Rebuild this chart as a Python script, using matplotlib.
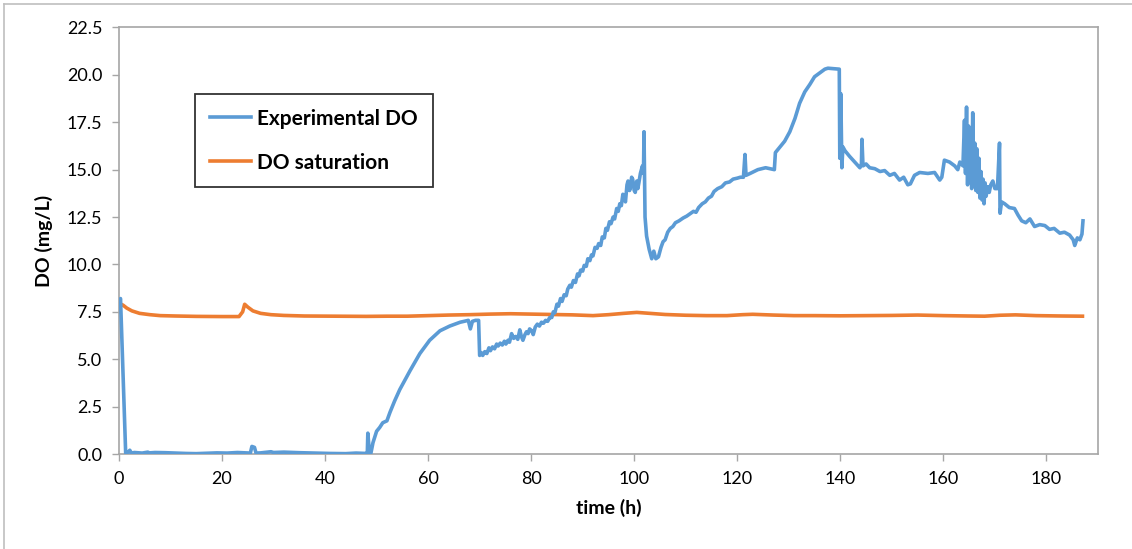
import matplotlib
matplotlib.use('Agg')
import matplotlib.pyplot as plt
from matplotlib.lines import Line2D

plt.rcParams['font.family'] = ['Lato', 'DejaVu Sans']

# Experimental DO (time in h, DO in mg/L)
exp_time = [
    0.0, 0.3, 0.7, 1.0, 1.3, 1.8, 2.1, 2.4, 3.0, 4.5, 5.6, 5.9, 7.0, 9.0, 11.0, 13.0,
    15.0, 17.0, 19.0, 21.0, 23.0, 25.5, 25.8, 26.3, 26.6, 27.5, 29.5, 30.0, 32.0,
    35.0, 38.0, 41.0, 44.0, 46.0, 48.0,
    48.2, 48.3, 48.6, 48.9, 49.3, 50.0, 50.6, 51.2, 52.0, 52.6, 53.5, 54.5, 56.5,
    58.4, 60.3, 62.3, 64.2, 66.2, 67.8, 68.2, 68.6, 69.2, 69.8,
    70.0, 70.3, 70.6, 71.0, 71.4, 71.8, 72.1, 72.5, 72.9, 73.3, 73.6, 74.0, 74.4,
    74.8, 75.1, 75.5, 75.8, 76.2, 76.6, 77.0, 77.4, 77.8, 78.1, 78.4, 78.8, 79.1,
    79.4, 79.7, 80.1, 80.4, 80.8, 81.2, 81.6, 82.0, 82.4, 82.8, 83.2, 83.6, 84.0,
    84.3, 84.6, 85.0, 85.3, 85.7, 86.0, 86.4, 86.8, 87.1, 87.5, 87.8, 88.2, 88.6,
    89.0, 89.3, 89.6, 90.0, 90.3, 90.7, 91.0, 91.4, 91.7, 92.0, 92.4, 92.8, 93.1,
    93.5, 93.8, 94.2, 94.5, 94.8, 95.2, 95.5, 95.9, 96.2, 96.6, 96.9, 97.2, 97.5,
    97.8, 98.1, 98.3, 98.6, 98.8, 99.1, 99.3, 99.5, 99.7, 100.0, 100.2, 100.5,
    100.7, 100.9, 101.2, 101.4, 101.6, 101.8, 101.9, 102.1,
    102.4, 102.9, 103.4, 103.8, 104.2, 104.7, 105.2, 105.6, 106.0, 106.5, 107.0,
    107.5, 108.0, 108.7, 109.5, 110.2, 111.0, 111.5, 112.0, 112.5, 113.2, 113.8,
    114.4, 115.0, 115.5, 116.2, 117.0, 117.7, 118.5, 119.2, 120.0, 120.6, 121.2,
    121.5, 121.7, 122.5, 124.0, 125.5, 127.2, 127.4, 128.3, 129.2, 130.2, 131.2,
    132.1, 133.1, 134.1, 135.0, 136.0, 137.0, 137.6, 139.8,
    139.9, 140.1, 140.3, 140.5, 140.9, 141.8, 142.8, 143.8, 144.1, 144.2, 144.4,
    145.0, 145.7, 146.7, 147.7, 148.6, 149.6, 150.5, 151.5, 152.3, 153.1, 153.6,
    154.4, 155.4, 157.0, 158.3, 159.3, 159.7, 160.2, 161.2, 162.2, 162.8, 163.2,
    163.8,
    164.1, 164.3, 164.5, 164.7, 164.9, 165.1, 165.3, 165.5, 165.7, 165.9, 166.1,
    166.3, 166.5, 166.7, 166.9, 167.1, 167.3, 167.5, 167.7, 167.9, 168.1, 168.3,
    168.6, 168.9, 169.2, 169.6, 170.0, 170.5,
    170.9, 171.0, 171.3, 171.9, 172.8, 173.8, 174.5, 175.2, 176.0, 176.8, 177.7,
    178.7, 179.7, 180.6, 181.5, 182.6, 183.5, 184.5, 185.2, 185.5, 186.0, 186.5,
    186.9, 187.1,
]
exp_do = [
    8.0, 8.2, 5.0, 2.5, 0.05, 0.1, 0.2, 0.05, 0.08, 0.05, 0.1, 0.06, 0.08, 0.07,
    0.05, 0.03, 0.02, 0.04, 0.06, 0.05, 0.08, 0.05, 0.4, 0.35, 0.05, 0.06, 0.12,
    0.08, 0.1, 0.07, 0.05, 0.03, 0.02, 0.05, 0.03,
    0.05, 1.1, 0.1, 0.05, 0.6, 1.2, 1.4, 1.65, 1.75, 2.2, 2.8, 3.4, 4.4, 5.3, 6.0,
    6.5, 6.75, 6.95, 7.05, 6.6, 7.0, 7.05, 7.05,
    5.2, 5.35, 5.2, 5.4, 5.3, 5.6, 5.45, 5.65, 5.55, 5.8, 5.7, 5.85, 5.75, 5.95,
    5.8, 6.0, 5.9, 6.35, 6.1, 6.2, 6.05, 6.55, 6.2, 6.0, 6.3, 6.45, 6.35, 6.6,
    6.5, 6.3, 6.7, 6.85, 6.75, 6.95, 6.9, 7.05, 7.0, 7.2, 7.2, 7.5, 7.45, 7.9,
    7.8, 8.2, 8.05, 8.4, 8.35, 8.7, 8.9, 8.8, 9.15, 9.05, 9.5, 9.4, 9.7, 9.65,
    9.95, 9.9, 10.3, 10.2, 10.5, 10.45, 10.9, 10.85, 11.1, 11.0, 11.45, 11.4,
    11.9, 11.8, 12.25, 12.15, 12.5, 12.4, 12.95, 12.8, 13.2, 13.1, 13.7, 13.5,
    13.3, 14.2, 14.4, 13.9, 14.1, 14.6, 14.5, 13.9, 13.8, 14.4, 14.0, 14.3, 14.8,
    15.0, 15.2, 14.8, 17.0, 12.5,
    11.5, 10.8, 10.3, 10.7, 10.3, 10.4, 10.9, 11.2, 11.3, 11.7, 11.9, 12.0, 12.2,
    12.3, 12.45, 12.55, 12.7, 12.8, 12.75, 13.0, 13.2, 13.3, 13.5, 13.6, 13.85,
    14.0, 14.1, 14.3, 14.35, 14.5, 14.55, 14.6, 14.6,
    15.8, 14.7, 14.8, 15.0, 15.1, 15.0, 15.9, 16.2, 16.5, 17.0, 17.7, 18.5, 19.1,
    19.5, 19.9, 20.1, 20.3, 20.35, 20.3,
    15.6, 19.0, 15.1, 16.2, 16.0, 15.7, 15.4, 15.1, 15.3, 16.6, 15.2, 15.3, 15.1,
    15.05, 14.9, 14.95, 14.7, 14.8, 14.45, 14.6, 14.2, 14.25, 14.7, 14.85, 14.8,
    14.85, 14.45, 14.6, 15.5, 15.4, 15.2, 15.0, 15.4, 15.2,
    17.6, 14.8, 18.3, 14.2, 17.3, 14.5, 16.8, 14.0, 18.0, 14.3, 16.4, 13.9, 16.1,
    13.8, 15.6, 13.5, 14.9, 13.4, 14.5, 13.2, 14.3, 13.6, 14.1, 13.8, 14.2, 14.4,
    14.0, 14.0,
    16.4, 12.7, 13.3, 13.2, 13.0, 12.95, 12.6, 12.3, 12.2, 12.4, 12.0, 12.1,
    12.05, 11.85, 11.9, 11.65, 11.7, 11.55, 11.3, 11.0, 11.4, 11.3, 11.6, 12.3,
]

# DO saturation
sat_time = [
    0.0, 0.4, 0.8, 1.5, 2.5, 4.0, 6.0, 8.0, 11.0, 15.0, 20.0, 23.3, 24.0, 24.4,
    25.0, 26.0, 27.5, 29.5, 32.0, 36.0, 42.0, 48.0, 52.0, 56.0, 60.0, 64.0, 68.0,
    72.0, 76.0, 80.0, 84.0, 88.0, 92.0, 95.0, 98.0, 100.5, 103.0, 106.0, 110.0,
    114.0, 118.0, 121.0, 123.0, 127.0, 131.0, 135.0, 140.0, 145.0, 150.0, 155.0,
    160.0, 165.0, 168.0, 171.0, 174.0, 178.0, 183.0, 187.0,
]
sat_do = [
    7.5, 7.9, 7.85, 7.7, 7.55, 7.42, 7.35, 7.3, 7.28, 7.26, 7.25, 7.25, 7.5, 7.9,
    7.75, 7.55, 7.42, 7.35, 7.31, 7.28, 7.27, 7.26, 7.27, 7.27, 7.3, 7.33, 7.35,
    7.38, 7.4, 7.38, 7.36, 7.34, 7.3, 7.35, 7.42, 7.47, 7.42, 7.36, 7.32, 7.3,
    7.3, 7.35, 7.37, 7.33, 7.3, 7.3, 7.29, 7.3, 7.31, 7.33, 7.3, 7.28, 7.27, 7.32,
    7.34, 7.3, 7.28, 7.27,
]

x_ticks = [0, 20, 40, 60, 80, 100, 120, 140, 160, 180]
y_ticks = [0, 2.5, 5, 7.5, 10, 12.5, 15, 17.5, 20, 22.5]

fig = plt.figure(figsize=(11.32, 5.49), dpi=100)
ax = fig.add_axes([0.1051, 0.173, 0.8648, 0.777])

ax.plot(exp_time, exp_do, color='#5B9BD5', lw=2.6, label='Experimental DO', zorder=3)
ax.plot(sat_time, sat_do, color='#ED7D31', lw=2.6, label='DO saturation', zorder=2)

ax.set_xlim(0, 190)
ax.set_ylim(0, 22.5)
ax.set_xticks(x_ticks)
ax.set_yticks(y_ticks)
ax.set_yticklabels([f'{v:.1f}' for v in y_ticks])

for s in ax.spines.values():
    s.set_color('#A6A6A6')
    s.set_linewidth(1.2)
ax.tick_params(direction='out', length=5, width=1, color='#A6A6A6',
               labelsize=13, pad=7, labelcolor='black')

ax.set_xlabel('time (h)', fontsize=14, fontweight='bold', labelpad=9)
ax.set_ylabel('DO (mg/L)', fontsize=14, fontweight='bold', labelpad=10)

leg = ax.legend(loc='upper left', bbox_to_anchor=(0.0776, 0.844), borderaxespad=0,
                prop={'weight': 'bold', 'size': 15}, frameon=True,
                fancybox=False, handlelength=2.0, handletextpad=0.3,
                labelspacing=1.15, borderpad=0.7)
leg.get_frame().set_edgecolor('black')
leg.get_frame().set_linewidth(1.3)

# outer chart border (Excel chart area)
fig.add_artist(Line2D([4 / 1132, 4 / 1132], [0, 1 - 4 / 549], color='#BFBFBF', lw=1.2))
fig.add_artist(Line2D([4 / 1132, 1], [1 - 4 / 549, 1 - 4 / 549], color='#BFBFBF', lw=1.2))

plt.savefig('out.png', dpi=100)
